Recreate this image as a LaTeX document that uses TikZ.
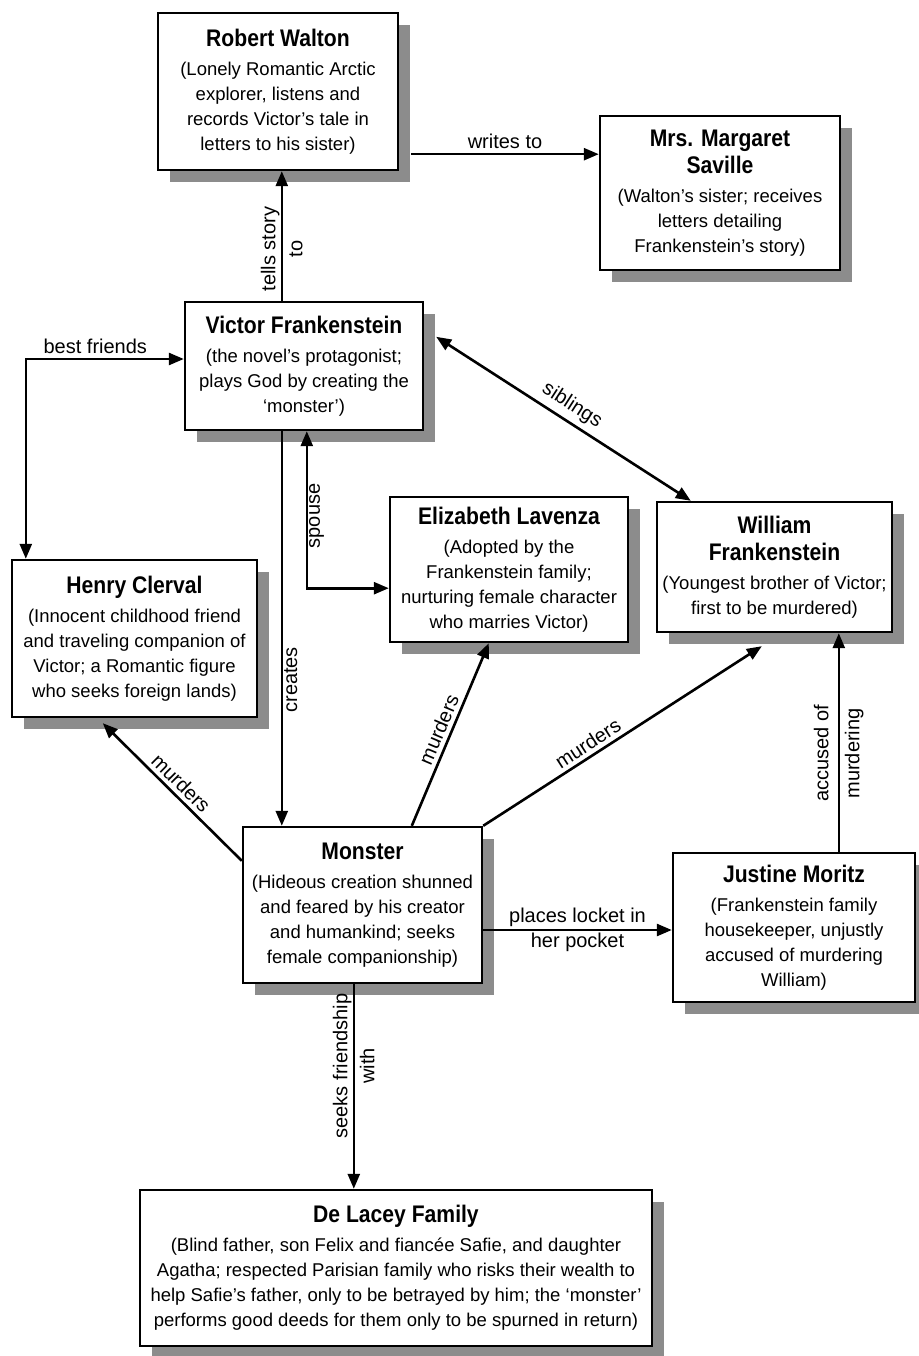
\documentclass[tikz,border=0pt]{standalone}
\usepackage{fontspec}
\setmainfont{Liberation Sans}
\newfontfamily\ttlfam{Liberation Sans}[FakeStretch=0.88]
\usetikzlibrary{arrows.meta,calc,shadows}
\newcommand{\ttl}{\ttlfam\bfseries\fontsize{24}{28}\selectfont}
\begin{document}
\begin{tikzpicture}[x=1pt,y=-1pt,
  >={Triangle[length=15pt,width=12pt]},
  box/.style={draw, line width=2.4pt, fill=white, inner sep=0pt, align=center,
    font=\fontsize{18.5}{25}\selectfont,
    general shadow={fill=black!45, shadow xshift=12pt, shadow yshift=-12pt}},
  lbl/.style={font=\fontsize{20}{27}\selectfont, inner sep=1pt, align=center},
  conn/.style={line width=2.6pt}]
\useasboundingbox (0,0) rectangle (918,1356);

% boxes
\node[box, minimum width=240pt, minimum height=157pt] (walton) at (278,91.5)
  {{\ttl Robert Walton}\\[4pt](Lonely Romantic Arctic\\explorer, listens and\\records Victor's tale in\\letters to his sister)};
\node[box, minimum width=240pt, minimum height=154pt] (saville) at (720,193)
  {{\ttl Mrs. Margaret}\\[2pt]{\ttl Saville}\\[4pt](Walton's sister; receives\\letters detailing\\Frankenstein's story)};
\node[box, minimum width=238pt, minimum height=128pt] (victor) at (304,366)
  {{\ttl Victor Frankenstein}\\[4pt](the novel's protagonist;\\plays God by creating the\\‘monster’)};
\node[box, minimum width=238pt, minimum height=145pt] (elizabeth) at (509,569.5)
  {{\ttl Elizabeth Lavenza}\\[4pt](Adopted by the\\Frankenstein family;\\nurturing female character\\who marries Victor)};
\node[box, minimum width=235pt, minimum height=130pt] (william) at (774.5,567)
  {{\ttl William}\\[2pt]{\ttl Frankenstein}\\[4pt](Youngest brother of Victor;\\first to be murdered)};
\node[box, minimum width=245pt, minimum height=157pt] (henry) at (134.5,638.5)
  {{\ttl Henry Clerval}\\[4pt](Innocent childhood friend\\and traveling companion of\\Victor; a Romantic figure\\who seeks foreign lands)};
\node[box, minimum width=239pt, minimum height=156pt] (monster) at (362.5,905)
  {{\ttl Monster}\\[4pt](Hideous creation shunned\\and feared by his creator\\and humankind; seeks\\female companionship)};
\node[box, minimum width=242pt, minimum height=149pt] (justine) at (794,927.5)
  {{\ttl Justine Moritz}\\[4pt](Frankenstein family\\housekeeper, unjustly\\accused of murdering\\William)};
\node[box, minimum width=512pt, minimum height=156pt] (delacey) at (396,1268)
  {{\ttl De Lacey Family}\\[4pt](Blind father, son Felix and fiancée Safie, and daughter\\Agatha; respected Parisian family who risks their wealth to\\help Safie's father, only to be betrayed by him; the ‘monster’\\performs good deeds for them only to be spurned in return)};

% helper coordinates
\coordinate (wr) at ($(walton.south east)+(12,-17)$);
\coordinate (vt) at ($(victor.north west)+(98,0)$);
\coordinate (bf) at ($(victor.west)+(0,-7)$);
\coordinate (bfe) at ($(henry.north west)+(15,0)$);
\coordinate (sb1) at ($(victor.north east)+(12,36)$);
\coordinate (sb2) at ($(william.north west)+(35,0)$);
\coordinate (sp1) at ($(victor.south west)+(123,0)$);
\coordinate (sp2) at ($(elizabeth.south west)+(0,-55)$);
\coordinate (cr) at ($(victor.south west)+(98,0)$);
\coordinate (mh1) at ($(henry.south west)+(92,5)$);
\coordinate (mh2) at ($(monster.north west)+(0,35)$);
\coordinate (me1) at ($(monster.north west)+(170,0)$);
\coordinate (me2) at ($(elizabeth.south west)+(100,0)$);
\coordinate (mw2) at ($(william.south west)+(106,13)$);
\coordinate (pl) at ($(monster.east)+(0,25)$);
\coordinate (ac) at ($(justine.north west)+(167,0)$);
\coordinate (sf) at ($(monster.south west)+(112,0)$);

% connectors
\draw[conn,->] (wr) -- (wr -| saville.west) node[midway, above=3pt, lbl] {writes to};
\draw[conn,->] (vt) -- (vt |- walton.south) node[pos=0.4, rotate=90, lbl] {tells story\\to};
\draw[conn,<->] (bf) -| (bfe) node[pos=0.28, above=3pt, lbl] {best friends};
\draw[conn,<->] (sb1) -- (sb2) node[midway, sloped, above=4pt, lbl] {siblings};
\draw[conn,<->] (sp1) |- (sp2) node[pos=0.27, rotate=90, anchor=north, lbl] {spouse};
\draw[conn,->] (cr) -- (cr |- monster.north) node[pos=0.63, rotate=90, anchor=north, lbl] {creates};
\draw[conn,<-] (mh1) -- (mh2) node[midway, sloped, above=3pt, lbl] {murders};
\draw[conn,->] (me1) -- (me2) node[midway, sloped, above=3pt, lbl] {murders};
\draw[conn,->] (monster.north east) -- (mw2) node[pos=0.4, sloped, above=3pt, lbl] {murders};
\draw[conn,->] (pl) -- (pl -| justine.west)
  node[midway, above=1pt, lbl] {places locket in}
  node[midway, below=1pt, lbl] {her pocket};
\draw[conn,->] (ac) -- (ac |- william.south) node[pos=0.45, rotate=90, lbl] {accused of\\[4pt]murdering};
\draw[conn,->] (sf) -- (sf |- delacey.north) node[pos=0.4, rotate=90, lbl] {seeks friendship\\with};
\end{tikzpicture}
\end{document}
